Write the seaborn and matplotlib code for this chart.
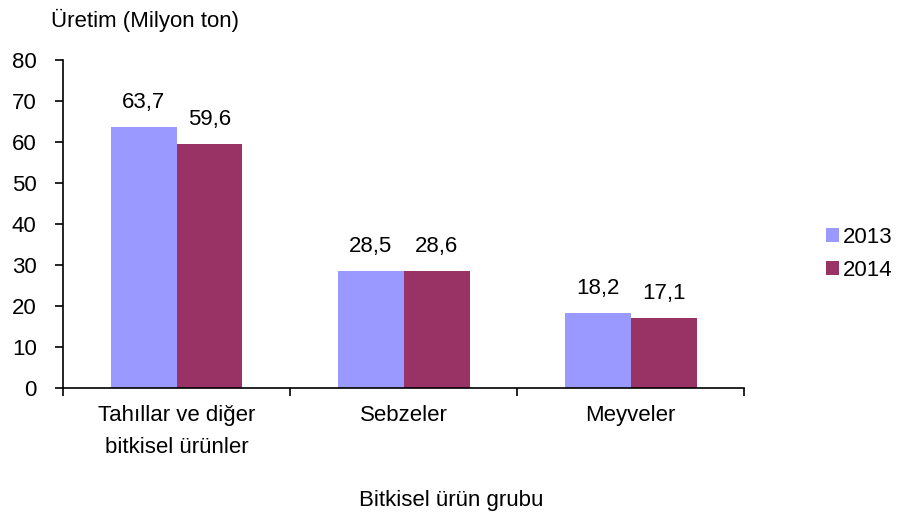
import matplotlib
matplotlib.use("Agg")
from matplotlib import pyplot as plt
import pandas as pd
import seaborn as sns

# data
kategoriler = ["Tahıllar ve diğer\nbitkisel ürünler", "Sebzeler", "Meyveler"]
yillar = ["2013", "2014"]
uretim_2013 = [63.7, 28.5, 18.2]
uretim_2014 = [59.6, 28.6, 17.1]
renkler = {"2013": "#9999FF", "2014": "#993366"}

df = pd.DataFrame({
    "grup": kategoriler * 2,
    "yil": ["2013"] * 3 + ["2014"] * 3,
    "uretim": uretim_2013 + uretim_2014,
})

sns.set_style("white")
plt.rcParams["font.family"] = ["Liberation Sans", "DejaVu Sans"]
plt.rcParams["text.color"] = "black"
plt.rcParams["xtick.color"] = "black"
plt.rcParams["ytick.color"] = "black"

FS = 16

fig = plt.figure(figsize=(9.2, 5.27), dpi=100)
ax = fig.add_axes([0.0685, 0.2638, 0.7405, 0.6222])

sns.barplot(data=df, x="grup", y="uretim", hue="yil", hue_order=yillar,
            palette=renkler, width=0.58, gap=0, saturation=1, ax=ax,
            errorbar=None, edgecolor="none")

# etiketler
for cont in ax.containers:
    ax.bar_label(cont, labels=[f"{v:.1f}".replace(".", ",") for v in cont.datavalues],
                 padding=10, fontsize=FS)

ax.set_ylim(0, 80)
ax.set_yticks(range(0, 81, 10))
ax.set_xlim(-0.5, 2.5)
ax.set_xticks([-0.5, 0.5, 1.5, 2.5])
ax.set_xticklabels([])
ax.set_xticks([0, 1, 2], minor=True)
ax.set_xticklabels(kategoriler, minor=True, fontsize=FS, linespacing=1.7)
ax.tick_params(axis="x", which="major", bottom=True, direction="out", length=6, width=1.2)
ax.tick_params(axis="x", which="minor", bottom=True, length=0, pad=12)
ax.tick_params(axis="y", left=True, direction="out", length=6, width=1.2, labelsize=FS, pad=13)

for s in ["top", "right"]:
    ax.spines[s].set_visible(False)
for s in ["left", "bottom"]:
    ax.spines[s].set_color("black")
    ax.spines[s].set_linewidth(1.2)

ax.set_xlabel("")
ax.set_ylabel("")
fig.text(0.055, 0.962, "Üretim (Milyon ton)", fontsize=FS, va="center", ha="left")
fig.text(0.49, 0.05, "Bitkisel ürün grubu", fontsize=FS, va="center", ha="center")

leg = ax.legend(loc="center left", bbox_to_anchor=(0.898, 0.518),
                bbox_transform=fig.transFigure, frameon=False,
                fontsize=FS, handlelength=0.6, handleheight=0.6, handletextpad=0.15,
                labelspacing=0.55, borderaxespad=0, borderpad=0)

fig.savefig("out.png", dpi=100)
